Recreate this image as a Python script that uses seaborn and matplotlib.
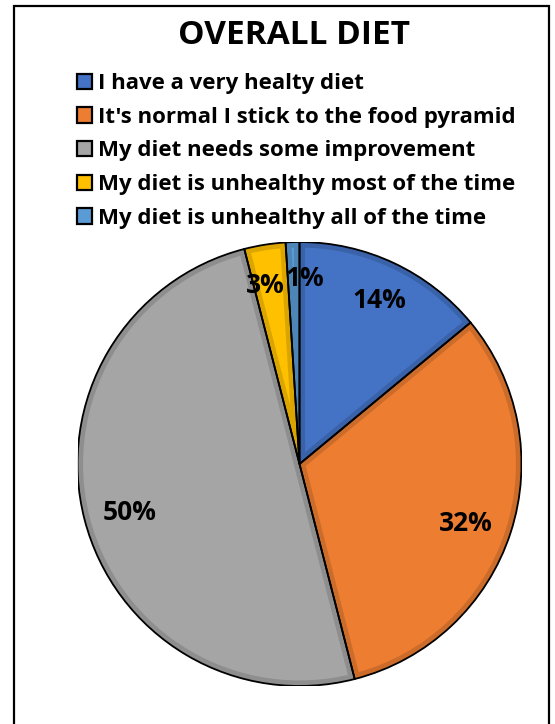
import matplotlib
matplotlib.use("Agg")
import matplotlib.pyplot as plt
import matplotlib.patches as mpatches
import matplotlib.colors as mcolors
import numpy as np
import seaborn as sns

# Survey answers and their shares (percent)
categories = [
    "I have a very healty diet",
    "It's normal I stick to the food pyramid",
    "My diet needs some improvement",
    "My diet is unhealthy most of the time",
    "My diet is unhealthy all of the time",
]
shares = [14, 32, 50, 3, 1]
title = "OVERALL DIET"

palette = ["#4472C4", "#ED7D31", "#A5A5A5", "#FFC000", "#5B9BD5"]
# radial placement of each percent label (fraction of radius)
label_radius = [0.84, 0.79, 0.79, 0.84, 0.86]
# small angular nudge (degrees) so the two thin-slice labels sit side by side
label_turn = [0, 0, 0, 1.5, -3.5]

sns.set_theme(style="white")
plt.rcParams["font.family"] = ["Open Sans", "DejaVu Sans"]
plt.rcParams["font.weight"] = "bold"
plt.rcParams["text.color"] = "black"

W, H = 555, 724
fig = plt.figure(figsize=(W / 100, H / 100), dpi=100)
fig.patch.set_facecolor("white")

R_px = 222
cx, cy = 299.5, 464
ax = fig.add_axes([(cx - R_px) / W, (H - cy - R_px) / H,
                   2 * R_px / W, 2 * R_px / H])


def darker(c, f=0.86):
    r, g, b = mcolors.to_rgb(c)
    return (r * f, g * f, b * f)


wedges, _, autotexts = ax.pie(
    shares, colors=palette, startangle=90, counterclock=False,
    autopct=lambda p: f"{p:.0f}%", pctdistance=0.8, radius=1,
    wedgeprops=dict(linewidth=0),
    textprops=dict(fontsize=19, fontweight="bold", color="black"),
)

# darker inner rim on each slice, kept inside the slice
for w, c in zip(wedges, palette):
    rim = mpatches.Wedge(w.center, w.r, w.theta1, w.theta2,
                         facecolor="none", edgecolor=darker(c), linewidth=8,
                         zorder=w.get_zorder() + 0.1)
    ax.add_patch(rim)
    rim.set_clip_on(True)
    rim.set_clip_path(w)

# black outlines on top
for w in wedges:
    ax.add_patch(mpatches.Wedge(w.center, w.r, w.theta1, w.theta2,
                                fill=False, edgecolor="black",
                                linewidth=1.3, zorder=w.get_zorder() + 0.2))

for w, t, rr, dt in zip(wedges, autotexts, label_radius, label_turn):
    ang = np.deg2rad((w.theta1 + w.theta2) / 2 + dt)
    t.set_position((rr * np.cos(ang), rr * np.sin(ang) - 0.022))
    t.set_zorder(10)

ax.set_xlim(-1, 1)
ax.set_ylim(-1, 1)
ax.set_aspect("equal")
ax.axis("off")

fig.text(294 / W, 1 - 35 / H, title, ha="center", va="center",
         fontsize=24, fontweight="bold", color="black")

handles = [mpatches.Patch(facecolor=c, edgecolor="black", linewidth=1.6)
           for c in palette]
fig.legend(handles, categories, loc="upper left",
           bbox_to_anchor=(77 / W, 1 - 73 / H), frameon=False,
           handlelength=0.68, handleheight=0.68,
           handletextpad=0.25, labelspacing=0.57, borderpad=0,
           borderaxespad=0, labelcolor="black",
           prop=dict(weight="bold", size=16))

frame = mpatches.Rectangle((13.5 / W, -0.05), (549 - 13.5) / W,
                           1 - 6 / H + 0.05, transform=fig.transFigure,
                           fill=False, edgecolor="black", linewidth=1.6,
                           clip_on=False)
fig.patches.append(frame)

fig.savefig("out.png", dpi=100, facecolor="white")
